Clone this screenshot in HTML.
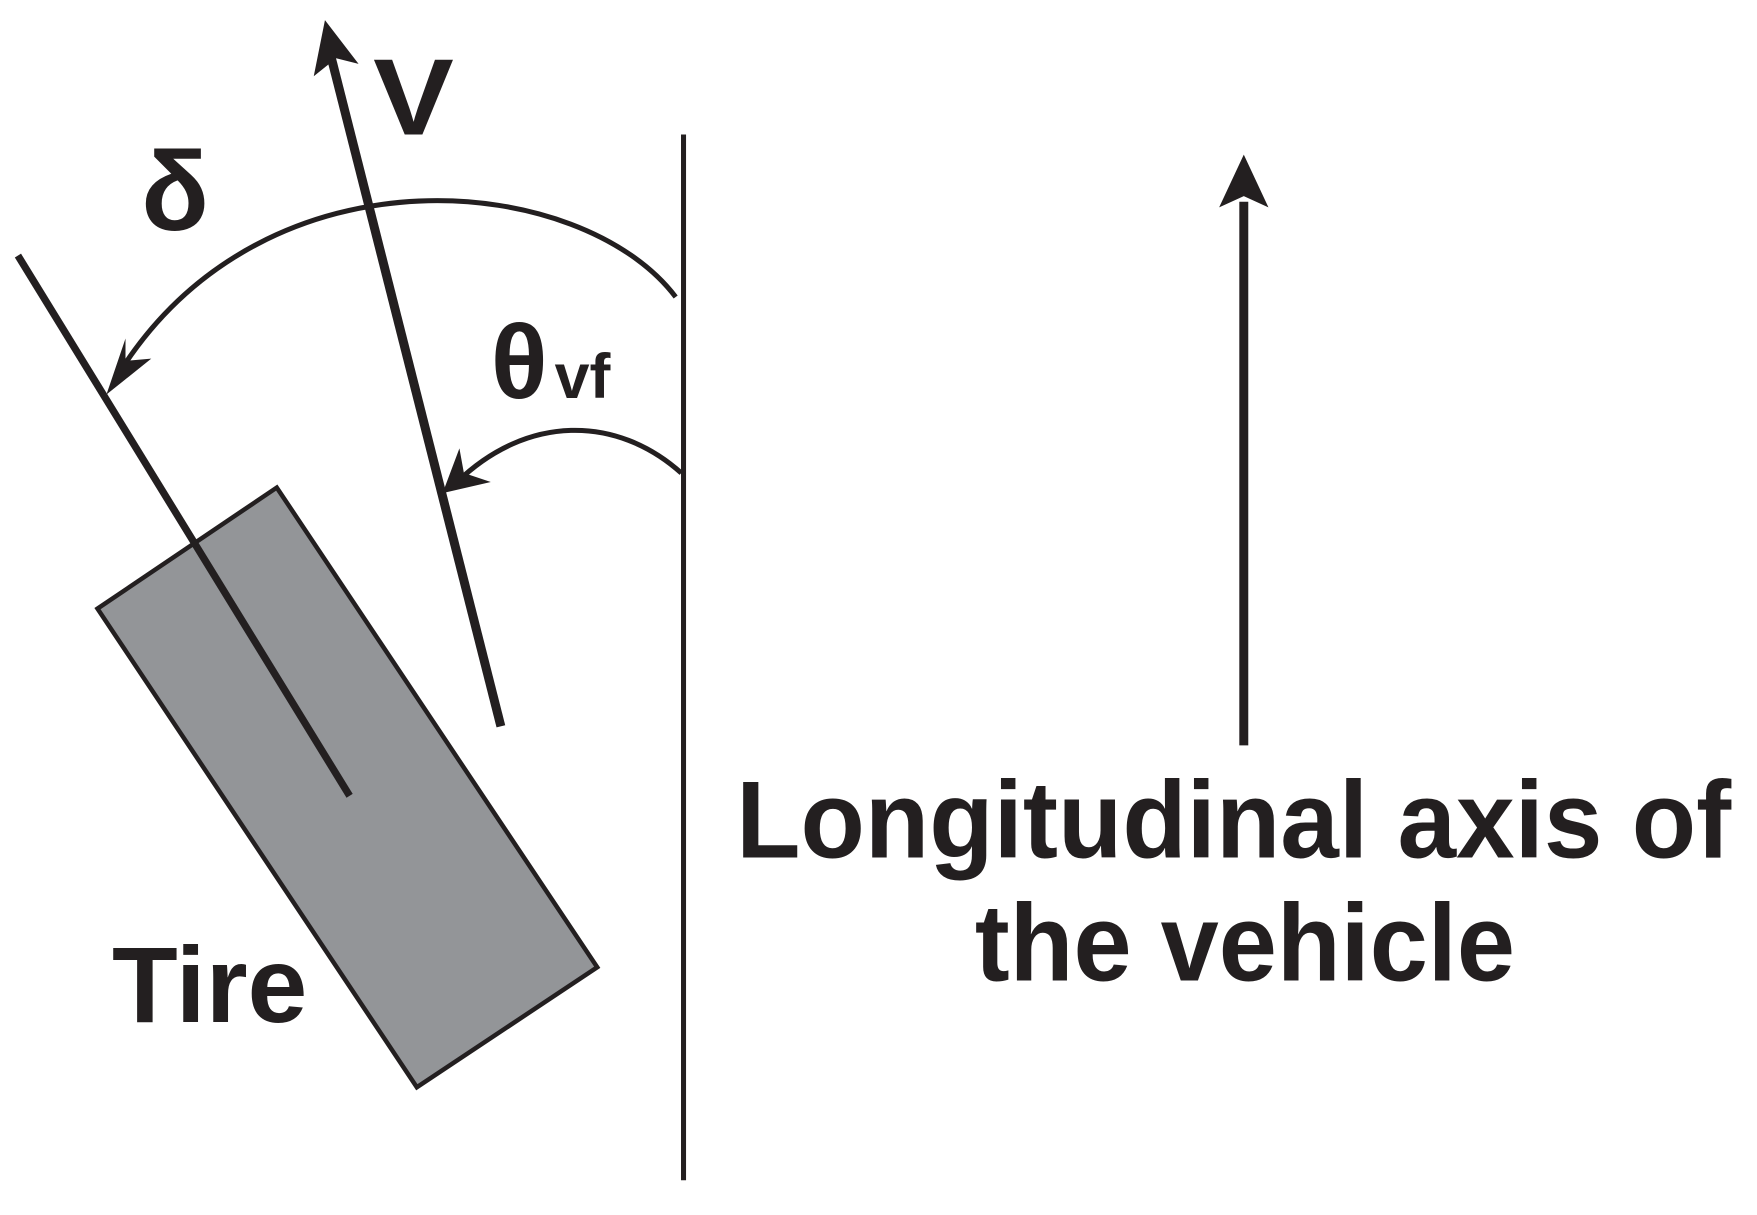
<!DOCTYPE html>
<html><head><meta charset="utf-8"><style>
html,body{margin:0;padding:0;background:#fff;width:1757px;height:1215px;overflow:hidden}
svg{display:block}
text{font-family:"Liberation Sans",Arial,sans-serif;font-weight:bold;fill:#231f20}
</style></head><body>
<svg width="1757" height="1215" viewBox="0 0 1568 1084" preserveAspectRatio="none" xmlns="http://www.w3.org/2000/svg">
<g stroke="#231f20" fill="none" stroke-linecap="butt">
  <polygon points="87,543 247,435 533,863 372,970" fill="#939598" stroke-width="4"/>
  <line x1="610" y1="120" x2="610" y2="1053" stroke-width="4.5"/>
  <line x1="1110" y1="665" x2="1110" y2="180" stroke-width="8"/>
  <line x1="447" y1="648" x2="294" y2="45" stroke-width="8"/>
  <line x1="16" y1="228" x2="312" y2="710" stroke-width="6.5"/>
  <path d="M603,265 C520,155 240,125 108,330" stroke-width="4.5"/>
  <path d="M608,422 C550,370 470,370 408,430" stroke-width="4.5"/>
</g>
<g fill="#231f20">
  <polygon points="1110,138 1132,185 1110,175 1088,185"/>
  <polygon points="290,18 320,57 300,52 280,68"/>
  <polygon points="95,352 112,302 112,322 135,320"/>
  <polygon points="395,440 410,400 414,422 438,430"/>
</g>
<text x="333" y="120" font-size="97" textLength="72" lengthAdjust="spacingAndGlyphs">V</text>
<text x="126" y="205" font-size="100">δ</text>
<text x="438" y="355" font-size="94">θ</text>
<text x="495" y="355" font-size="56">vf</text>
<text x="100" y="912" font-size="96">Tire</text>
<text x="657" y="765" font-size="98" textLength="888" lengthAdjust="spacingAndGlyphs">Longitudinal axis of</text>
<text x="870" y="875" font-size="98" textLength="482" lengthAdjust="spacingAndGlyphs">the vehicle</text>
</svg>
</body></html>
